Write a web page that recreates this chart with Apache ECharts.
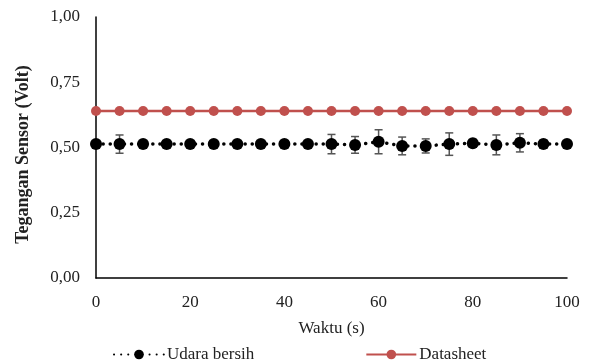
<!DOCTYPE html>
<html><head><meta charset="utf-8">
<script src="https://cdn.jsdelivr.net/npm/echarts@6/dist/echarts.min.js"></script>
<style>html,body{margin:0;padding:0;background:#fff}#c{width:591px;height:363px}</style>
</head><body><div id="c"></div>
<script>
const times = [0,5,10,15,20,25,30,35,40,45,50,55,60,65,70,75,80,85,90,95,100];
const udaraBersih = [0.513,0.513,0.513,0.513,0.513,0.513,0.513,0.513,0.513,0.513,0.513,0.510,0.522,0.506,0.506,0.513,0.516,0.510,0.518,0.513,0.513];
const udaraErr = [0.010,0.035,0.010,0.010,0.010,0.012,0.010,0.010,0.010,0.010,0.037,0.032,0.046,0.034,0.027,0.043,0.015,0.038,0.035,0.015,0.012];
const datasheet = [0.64,0.64,0.64,0.64,0.64,0.64,0.64,0.64,0.64,0.64,0.64,0.64,0.64,0.64,0.64,0.64,0.64,0.64,0.64,0.64,0.64];
const yTicks = [0,0.25,0.5,0.75,1];
const font = '"Liberation Serif","Times New Roman",serif';

const chart = echarts.init(document.getElementById('c'));
const errData = times.map((t,i)=>[t, udaraBersih[i]-udaraErr[i], udaraBersih[i]+udaraErr[i]]);
chart.setOption({
  animation:false,
  textStyle:{fontFamily:font},
  grid:{left:96,right:24,top:17,bottom:85},
  legend:{
    top:341,left:108,itemWidth:50,itemHeight:12,itemGap:111,
    textStyle:{fontFamily:font,fontSize:17,color:'#222',padding:[0,0,0,-2]},
    data:['Udara bersih','Datasheet']
  },
  xAxis:{
    type:'value',min:0,max:100,interval:20,
    name:'Waktu (s)',nameLocation:'middle',nameGap:42,
    nameTextStyle:{fontFamily:font,fontSize:17,color:'#222'},
    axisLine:{lineStyle:{color:'#000',width:1.5}},
    axisTick:{show:false},splitLine:{show:false},
    axisLabel:{fontFamily:font,fontSize:17,color:'#222',margin:16}
  },
  yAxis:{
    type:'value',min:0,max:1,interval:0.25,
    name:'Tegangan Sensor (Volt)',nameLocation:'middle',nameGap:64,
    nameTextStyle:{fontFamily:font,fontSize:18,fontWeight:'bold',color:'#222',padding:[0,14,0,0]},
    axisLine:{show:true,lineStyle:{color:'#000',width:1.5}},
    axisTick:{show:false},splitLine:{show:false},
    axisLabel:{fontFamily:font,fontSize:17,color:'#222',margin:16,
      formatter:v=>yTicks.includes(v)?v.toFixed(2).replace('.',','):''}
  },
  series:[
    {
      name:'Datasheet',type:'line',data:times.map((t,i)=>[t,datasheet[i]]),
      symbol:'circle',symbolSize:10,
      itemStyle:{color:'#C0504D'},
      lineStyle:{color:'#C0504D',width:2.5},z:2
    },
    {
      name:'errbar',type:'custom',data:errData,z:3,
      renderItem:function(params,api){
        const x=api.value(0);
        const lo=api.coord([x,api.value(1)]);
        const hi=api.coord([x,api.value(2)]);
        const w=4;
        const st={stroke:'#555',lineWidth:1.5};
        return {type:'group',children:[
          {type:'line',shape:{x1:lo[0],y1:lo[1],x2:hi[0],y2:hi[1]},style:st},
          {type:'line',shape:{x1:lo[0]-w,y1:lo[1],x2:lo[0]+w,y2:lo[1]},style:st},
          {type:'line',shape:{x1:hi[0]-w,y1:hi[1],x2:hi[0]+w,y2:hi[1]},style:st}
        ]};
      }
    },
    {
      name:'Udara bersih',type:'line',data:times.map((t,i)=>[t,udaraBersih[i]]),
      symbol:'circle',symbolSize:12,
      itemStyle:{color:'#000'},
      lineStyle:{color:'#000',width:3.5,type:[0.1,7],cap:'round'},z:4
    }
  ]
});
</script></body></html>
